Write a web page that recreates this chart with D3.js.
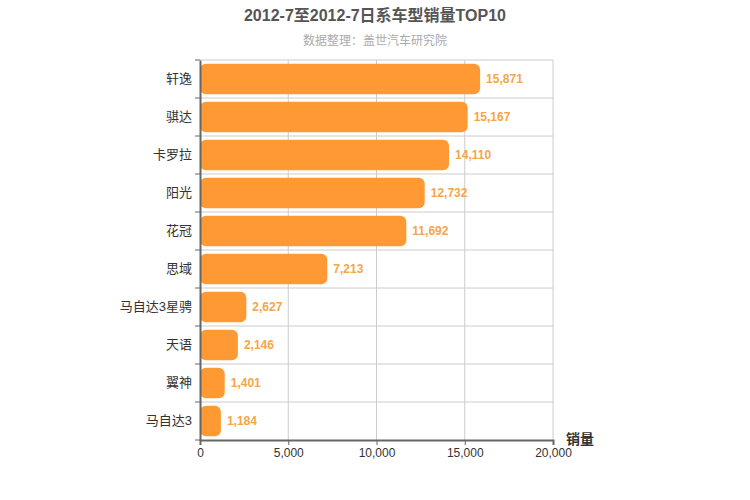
<!DOCTYPE html>
<html><head><meta charset="utf-8">
<script src="https://cdn.jsdelivr.net/npm/d3@7"></script>
<style>body{margin:0;background:#fff;font-family:"Liberation Sans","Noto Sans CJK SC",sans-serif}</style>
</head><body><div id="chart"></div>
<script>
let models = ['轩逸', '骐达', '卡罗拉', '阳光', '花冠', '思域', '马自达3星骋', '天语', '翼神', '马自达3']
let sales = [15871, 15167, 14110, 12732, 11692, 7213, 2627, 2146, 1401, 1184]
let xTicks = [0, 5000, 10000, 15000, 20000]

let margin = {top: 60, left: 200, right: 197, bottom: 60}
let width = 750 - margin.left - margin.right
let height = 500 - margin.top - margin.bottom

let svg = d3.select('#chart').append('svg')
    .attr('width', 750).attr('height', 500)

svg.append('text').attr('x', 375).attr('y', 21).attr('text-anchor', 'middle')
    .style('font-size', '16px').style('font-weight', 'bold').attr('fill', '#555')
    .text('2012-7至2012-7日系车型销量TOP10')
svg.append('text').attr('x', 375).attr('y', 45).attr('text-anchor', 'middle')
    .style('font-size', '12px').attr('fill', '#aaa')
    .text('数据整理：盖世汽车研究院')

let g = svg.append('g').attr('transform', `translate(${margin.left}, ${margin.top})`)

let x = d3.scaleLinear().domain([0, 20000]).range([0, width])
let y = d3.scaleBand().domain(models).range([0, height]).paddingInner(0.2).paddingOuter(0.1)
let step = y.step()

// grid
g.selectAll('.vg').data(xTicks.slice(1)).join('line')
    .attr('x1', d => x(d)).attr('x2', d => x(d)).attr('y1', 0).attr('y2', height)
    .attr('stroke', '#ccc')
g.selectAll('.hg').data(d3.range(models.length)).join('line')
    .attr('x1', 0).attr('x2', width).attr('y1', d => d * step).attr('y2', d => d * step)
    .attr('stroke', '#ccc')

g.selectAll('.bar').data(models).join('rect')
    .attr('x', 0).attr('y', d => y(d))
    .attr('width', (d, i) => x(sales[i])).attr('height', y.bandwidth())
    .attr('rx', 6).attr('fill', '#ff9933')

g.selectAll('.lbl').data(models).join('text')
    .attr('x', (d, i) => x(sales[i]) + 6).attr('y', d => y(d) + y.bandwidth() / 2 + 4)
    .style('font-size', '12px').style('font-weight', 'bold').attr('fill', '#f5a54a')
    .text((d, i) => d3.format(',')(sales[i]))

// y axis
let ya = g.append('g').call(d3.axisLeft(y).tickSize(0).tickPadding(8))
ya.select('.domain').attr('stroke', '#666').attr('stroke-width', 2)
ya.selectAll('text').style('font-size', '13px').attr('fill', '#333')
    .style('font-family', '"Liberation Sans","Noto Sans CJK SC"')
ya.selectAll('.tk').data(d3.range(models.length + 1)).join('line')
    .attr('x1', -5).attr('x2', 0).attr('y1', d => d * step).attr('y2', d => d * step)
    .attr('stroke', '#666')

// x axis
let xa = g.append('g').attr('transform', `translate(0, ${height})`)
    .call(d3.axisBottom(x).tickValues(xTicks).tickFormat(d3.format(',')).tickSize(5))
xa.select('.domain').attr('stroke', '#666').attr('stroke-width', 2)
xa.selectAll('line').attr('stroke', '#666')
xa.selectAll('text').style('font-size', '12px').attr('fill', '#333')
    .style('font-family', '"Liberation Sans","Noto Sans CJK SC"')

svg.append('text').attr('x', 580).attr('y', 444).attr('text-anchor', 'middle')
    .style('font-size', '14px').style('font-weight', 'bold').attr('fill', '#333')
    .text('销量')
</script></body></html>
